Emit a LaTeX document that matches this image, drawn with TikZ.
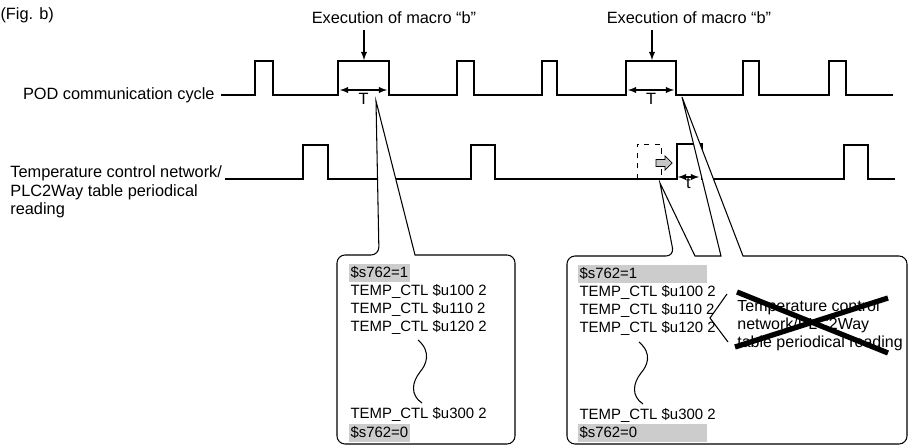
\documentclass[tikz,border=0pt]{standalone}
\usepackage{fontspec}
\setmainfont{Liberation Sans}
\usepackage{tikz}
\usetikzlibrary{calc,positioning}
\definecolor{hlgray}{gray}{0.8}
\tikzset{
  signal/.style={line width=0.8pt},
  lbl/.style={font=\fontsize{9.3}{10.6}\selectfont},
  code/.style={font=\fontsize{8.5}{10}\selectfont, anchor=west, inner xsep=0.04cm, inner ysep=0pt, text height=0.75em, text depth=0.25em},
  hlcode/.style={code, fill=hlgray},
}

\begin{document}
\begin{tikzpicture}[x=0.02cm, y=-0.02cm, line width=0.6pt]
        \useasboundingbox (0,0) rectangle (913,446);
        % Title
        \node[lbl, anchor=west, inner sep=0pt] (fig) at (0,15) {(Fig. b)};

        % Signal names
        \node[lbl, anchor=east] (pod) at (221,95) {POD communication cycle};
        \node[lbl, anchor=west, align=left] (tcn) at (4,192) {Temperature control network/\\PLC2Way table periodical\\reading};

        % POD communication cycle
        \draw[signal] (pod.east) -- (255,95) -- (255,61) -- (273,61) -- (273,95)
            -- (338,95) -- (338,61) -- (389,61) -- (389,95)
            -- (457,95) -- (457,61) -- (474,61) -- (474,95)
            -- (542,95) -- (542,61) -- (557,61) -- (557,95)
            -- (626,95) -- (626,61) -- (676,61) -- (676,95)
            -- (743,95) -- (743,61) -- (759,61) -- (759,95)
            -- (829,95) -- (829,61) -- (846,61) -- (846,95) -- (893,95);

        % Periodical reading
        \draw[signal] (225,179) -- (303,179) -- (303,145) -- (328,145) -- (328,179)
            -- (471,179) -- (471,145) -- (495,145) -- (495,179)
            -- (677,179) -- (677,144) -- (702,144) -- (702,179)
            -- (844,179) -- (844,145) -- (868,145) -- (868,179) -- (895,179);
        \draw[dashed, line width=0.5pt] (637,179) -- (637,144) -- (661,144) -- (661,179);
        \draw[fill=gray!45, line width=0.4pt] (656,159.5) -- (665,159.5) -- (665,156) -- (672,163)
            -- (665,170) -- (665,166.5) -- (656,166.5) -- cycle;

        % Macro execution
        \node[lbl] (exec1) at (394,18) {Execution of macro “b”};
        \node[lbl] (exec2) at (689,18) {Execution of macro “b”};
        \coordinate (m1) at (364,60);
        \coordinate (m2) at (652,60);
        \draw[-latex] (exec1.south -| m1) -- (m1);
        \draw[-latex] (exec2.south -| m2) -- (m2);

        % Durations
        \draw[latex-latex] (340,90) -- (387,90) node[midway, below=-2pt, lbl] (T1) {T};
        \draw[latex-latex] (628,90) -- (674,90) node[midway, below=-2pt, lbl] (T2) {T};
        \draw[latex-latex] (678,177) -- (699,177) node[midway, below=-3pt, lbl] (t1) {t};

        % Callouts
        \draw[fill=white, rounded corners=0.16cm] (337,350) -- (337,255) -- (379,255) [sharp corners]
            -- (376,101) -- (415,255) -- (420,255) [rounded corners=0.16cm]
            -- (515,255) -- (515,444) -- (337,444) -- cycle;
        \draw[fill=white, rounded corners=0.16cm] (567,350) -- (567,256) -- (674,256) [sharp corners]
            -- (660,183) -- (695,256) -- (721,256) -- (682,97) -- (743,256) -- (750,256) [rounded corners=0.16cm]
            -- (907,256) -- (907,444) -- (567,444) -- cycle;

        % Macro "b" listing
        \node[hlcode] (a1) at (348,273) {\$s762=1};
        \node[code] (a2) at (348,291) {TEMP\_CTL \$u100 2};
        \node[code] (a3) at (348,309) {TEMP\_CTL \$u110 2};
        \node[code] (a4) at (348,327) {TEMP\_CTL \$u120 2};
        \node[code] (a5) at (348,414) {TEMP\_CTL \$u300 2};
        \node[hlcode] (a6) at (348,433) {\$s762=0};
        \draw (418,340) .. controls (432,352) and (426,365) .. (420,372)
            .. controls (412,382) and (410,395) .. (422,403);

        \node[hlcode, text width=2.5cm, align=left] (b1) at (577,274) {\$s762=1};
        \node[code] (b2) at (577,292) {TEMP\_CTL \$u100 2};
        \node[code] (b3) at (577,310) {TEMP\_CTL \$u110 2};
        \node[code] (b4) at (577,328) {TEMP\_CTL \$u120 2};
        \node[code] (b5) at (577,415) {TEMP\_CTL \$u300 2};
        \node[hlcode, text width=2.5cm, align=left] (b6) at (577,433) {\$s762=0};
        \draw (639,342) .. controls (653,354) and (647,366) .. (641,373)
            .. controls (633,383) and (631,396) .. (643,404);

        % Skipped reading
        \draw (727,294) -- (710,318) -- (728,342);
        \node[lbl, anchor=west, align=left, font=\fontsize{9.1}{10.2}\selectfont] (skip) at (731,325)
            {Temperature control\\network/PLC2Way\\table periodical reading};
        \draw[line width=3pt] (737,292) -- (888,353);
        \draw[line width=3pt] (735,347) -- (888,298);
\end{tikzpicture}
\end{document}
